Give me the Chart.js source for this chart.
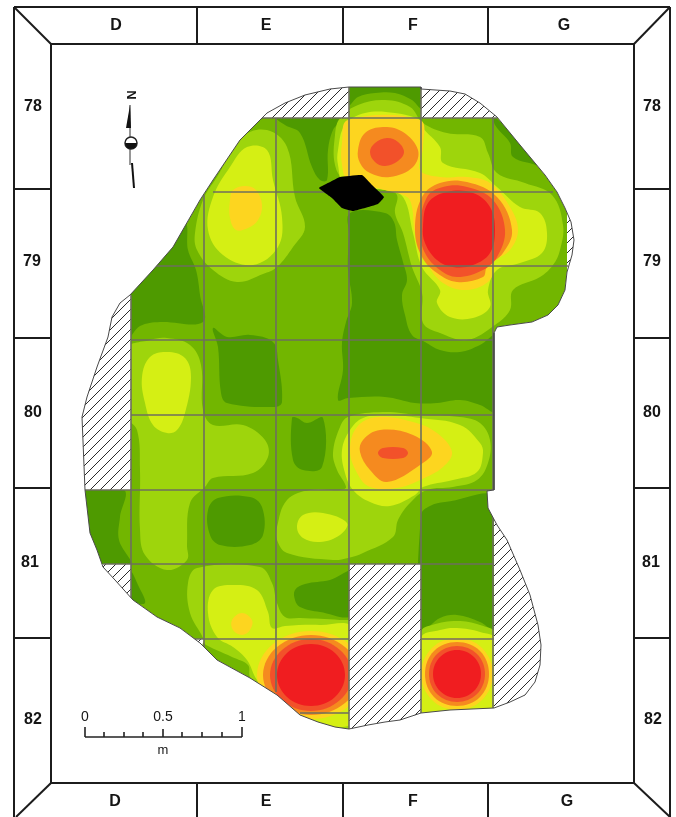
<!DOCTYPE html>
<html lang="en">
<head>
<meta charset="UTF-8">
<title>Excavation grid contour map</title>
<script src="https://cdn.jsdelivr.net/npm/chart.js"></script>
<style>
  html, body { margin: 0; padding: 0; background: #fff; }
  canvas { display: block; }
</style>
</head>
<body>
<canvas id="map" width="676" height="817"></canvas>
<script>
// labels of the grid squares
const columns = ['D', 'E', 'F', 'G'];
const rows = ['78', '79', '80', '81', '82'];
const scaleLabels = ['0', '0.5', '1'];
const scaleUnit = 'm';

const site = [[262,118],[267,113],[285,103],[305,95],[330,89],[349,87],[421,87],[421,89],[450,91],[465,94],[480,103],[497,117],[520,145],[545,175],[557,192],[565,208],[571,222],[574,240],[572,255],[567,272],[565,290],[558,305],[548,315],[532,322],[510,325],[497,327],[494,333],[494,490],[487,491],[488,508],[497,525],[507,540],[520,570],[530,595],[538,625],[541,645],[540,665],[535,682],[525,695],[510,702],[494,708],[450,710],[421,713],[400,720],[385,722],[368,725],[349,729],[335,727],[318,722],[300,715],[277,695],[250,678],[217,660],[200,643],[180,628],[157,617],[133,600],[115,580],[103,567],[97,550],[90,533],[85,490],[82,417],[87,397],[97,367],[108,337],[112,317],[120,303],[130,295],[153,270],[173,247],[200,200],[213,180],[240,140],[262,118]];

const level0 = [
  [[349,87],[421,87],[421,108],[412,100],[395,93],[375,93],[358,97],[349,105]],
  [[277,118],[342,118],[333,130],[328,150],[327,180],[320,180],[312,167],[300,133],[285,125]],
  [[495,117],[560,185],[553,180],[540,167],[513,157],[510,143],[495,125]],
  [[128,300],[165,235],[185,222],[188,250],[196,270],[200,295],[203,322],[160,322],[140,326],[128,338]],
  [[350,213],[385,213],[394,222],[397,240],[403,262],[407,280],[402,295],[405,315],[412,335],[425,342],[440,350],[460,352],[480,345],[497,335],[497,412],[480,405],[460,400],[437,403],[415,403],[385,397],[348,398],[338,400],[343,370],[342,343],[346,322],[352,303],[348,270],[349,235]],
  [[213,328],[227,337],[250,335],[273,342],[278,360],[282,402],[275,407],[227,403],[221,393],[218,347]],
  [[292,418],[297,418],[307,423],[323,418],[322,467],[303,470],[293,460]],
  [[80,490],[124,490],[120,517],[119,540],[131,566],[95,566],[85,530]],
  [[131,572],[138,585],[145,603],[131,600]],
  [[208,510],[218,498],[250,497],[262,507],[263,535],[250,545],[220,545],[210,535]],
  [[295,590],[305,584],[330,580],[352,572],[352,615],[320,612],[300,607],[295,600]],
  [[421,515],[430,506],[445,502],[497,499],[497,631],[480,622],[457,615],[440,618],[421,630]]
];

const level2 = [
  [[242,137],[267,130],[287,147],[295,197],[305,227],[293,247],[277,267],[263,274],[237,282],[213,270],[197,250],[195,233],[203,200],[217,177]],
  [[335,135],[340,118],[358,105],[385,100],[410,107],[423,123],[447,133],[480,137],[488,153],[497,173],[525,183],[552,195],[563,225],[560,250],[553,265],[540,277],[513,290],[510,310],[495,325],[467,340],[440,333],[423,323],[422,293],[412,267],[403,233],[395,213],[397,195],[385,190],[345,180],[335,165]],
  [[125,350],[150,340],[167,338],[190,345],[201,365],[203,410],[213,425],[243,425],[265,440],[268,457],[253,473],[213,478],[205,487],[190,503],[187,545],[187,560],[167,570],[145,555],[140,530],[140,470],[137,430],[125,415]],
  [[188,583],[197,568],[260,567],[272,583],[277,603],[285,617],[300,618],[340,620],[352,623],[352,732],[300,718],[260,690],[250,677],[248,665],[232,657],[203,643],[203,638],[190,613]],
  [[333,453],[340,427],[348,417],[383,412],[420,415],[460,417],[480,423],[490,440],[488,463],[477,480],[453,487],[427,490],[410,503],[398,520],[393,537],[363,553],[348,558],[333,560],[287,553],[277,540],[277,527],[287,500],[310,490],[340,490],[346,487],[337,470]],
  [[421,632],[432,625],[457,621],[480,625],[497,635],[497,716],[421,716]]
];

const level3 = [
  [[247,147],[267,150],[273,180],[282,217],[278,247],[253,265],[223,255],[208,230],[213,197],[230,167]],
  [[142,377],[150,357],[167,352],[185,358],[191,377],[185,413],[177,430],[167,433],[153,425],[145,403]],
  [[297,527],[303,515],[323,513],[347,523],[340,535],[320,542],[303,538]],
  [[208,613],[213,590],[233,585],[257,590],[268,612],[272,628],[285,626],[320,625],[352,628],[355,720],[320,725],[290,710],[272,695],[257,680],[247,660],[233,647],[217,637]],
  [[342,450],[350,430],[363,418],[387,415],[420,418],[460,425],[480,443],[483,453],[477,472],[453,480],[423,487],[415,495],[390,506],[370,502],[353,490],[345,473]],
  [[338,150],[345,125],[365,113],[395,113],[420,120],[422,127],[440,147],[443,163],[480,173],[497,187],[520,207],[540,213],[547,233],[542,253],[520,263],[497,270],[488,290],[490,307],[473,318],[450,317],[437,303],[440,290],[422,267],[413,233],[403,197],[385,190],[345,185],[338,165]],
  [[421,638],[440,630],[457,628],[480,632],[497,640],[497,716],[421,716]]
];

const level4 = [
  [[233,190],[245,186],[256,190],[262,205],[258,220],[248,228],[236,230],[230,218],[230,200]],
  [[232,620],[242,613],[252,620],[250,630],[242,635],[233,630]],
  [[350,450],[357,427],[377,417],[413,422],[437,433],[452,452],[443,467],[420,480],[397,488],[370,487],[357,473]],
  [[342,143],[348,120],[420,120],[423,147],[420,170],[440,177],[467,177],[490,183],[510,207],[518,230],[510,250],[493,263],[490,280],[467,290],[443,283],[427,263],[415,233],[412,207],[407,197],[385,190],[348,180],[342,165]],
  [[311,631],[349,644],[365,675],[349,706],[311,719],[273,706],[257,675],[273,644]],
  [[457,638],[482,648],[493,674],[482,700],[457,710],[432,700],[421,674],[432,648]]
];

const level5 = [
  [[360,452],[363,440],[380,430],[413,435],[432,452],[420,465],[387,482],[370,470]],
  [[358,150],[365,133],[383,127],[403,132],[418,150],[413,167],[390,177],[370,173],[360,163]],
  [[415,230],[422,197],[440,183],[467,182],[497,197],[512,230],[503,253],[487,267],[483,277],[457,282],[437,273],[422,257]],
  [[311,635],[345,647],[359,675],[345,703],[311,715],[277,703],[263,675],[277,647]],
  [[457,642],[480,651],[489,674],[480,697],[457,706],[434,697],[425,674],[434,651]]
];

const level6 = [
  [[378,453],[383,448],[403,448],[408,453],[403,458],[383,458]],
  [[370,152],[375,143],[387,138],[398,142],[404,152],[398,161],[385,166],[375,162]],
  [[420,230],[427,197],[443,187],[467,187],[493,200],[505,230],[497,257],[483,270],[457,277],[440,270],[425,253]],
  [[311,639],[340,650],[352,675],[340,700],[311,711],[282,700],[270,675],[282,650]],
  [[457,646],[477,654],[485,674],[477,694],[457,702],[437,694],[429,674],[437,654]]
];

const level7 = [
  [[423,227],[428,203],[447,192],[473,193],[490,207],[495,230],[490,253],[473,265],[453,267],[437,260],[425,243]],
  [[311,644],[335,653],[345,675],[335,697],[311,706],[287,697],[277,675],[287,653]],
  [[457,650],[474,657],[481,674],[474,691],[457,698],[440,691],[433,674],[440,657]]
];

const levelColors = ['#4e9a00', '#72b600', '#9ed50c', '#d5ef14', '#fdd51f', '#f58a1f', '#f2512a', '#f01d20'];

const hatched = [
  [[60,270],[131,270],[131,490],[60,490]],
  [[90,564],[131,564],[131,610],[90,610]],
  [[190,639],[204,639],[201,650],[190,650]],
  [[250,80],[349,80],[349,118],[250,118]],
  [[421,80],[510,80],[510,118],[421,118]],
  [[567,205],[580,205],[580,278],[567,278]],
  [[349,564],[421,564],[421,740],[349,740]],
  [[494,490],[560,490],[560,720],[494,720]]
];

const blackStone = [[319,188],[330,182],[340,177],[362,175],[372,185],[384,197],[378,204],[365,208],[353,211],[342,208],[332,198]];

const gridLines = [
  [131,295,131,600],[204,195,204,648],[276,118,276,692],[349,87,349,729],[421,87,421,713],[493,118,493,490],[493,515,493,708],
  [262,118,497,118],[213,192,553,192],[153,266,568,266],[131,340,494,340],[131,415,494,415],[85,490,494,490],[103,564,494,564],[193,639,349,639],[421,639,494,639],[300,713,349,713]
];

const frameLines = [
  [14,7,670,7],[14,7,14,817],[670,7,670,817],
  [51,44,634,44],[51,44,51,783],[634,44,634,783],[51,783,634,783],
  [14,7,51,44],[670,7,634,44],[51,783,16,817],[634,783,670,817],
  [197,7,197,44],[343,7,343,44],[488,7,488,44],[197,783,197,817],[343,783,343,817],[488,783,488,817],
  [14,189,51,189],[14,338,51,338],[14,488,51,488],[14,638,51,638],
  [634,189,670,189],[634,338,670,338],[634,488,670,488],[634,638,670,638]
];

const scaleBarLines = [
  [85,737,242,737],[85,727,85,737],[242,727,242,737],[163,729,163,737],
  [104,732,104,737],[124,732,124,737],[143,732,143,737],[182,732,182,737],[202,732,202,737],[222,732,222,737]
];

const northWedges = [
  [[130,105],[126,128],[131,128]],
  [[131,163],[133,163],[135,188],[133,188]],
  [[125,143],[137,143],[135,148],[131,149],[127,148]]
];
const northShaft = [130,105,130,165];
const northDial = [131,143];

const topLabelX = [116, 266, 413, 564];
const bottomLabelX = [115, 266, 413, 567];
const leftLabelX = [33, 32, 33, 30, 33];
const rightLabelX = [652, 652, 652, 651, 653];
const rowLabelY = [107, 262, 413, 563, 720];
const scaleLabelX = [85, 163, 242];

function hatchPattern() {
  const tile = document.createElement('canvas');
  tile.width = 10;
  tile.height = 10;
  const c = tile.getContext('2d');
  c.fillStyle = '#fff';
  c.fillRect(0, 0, 10, 10);
  c.strokeStyle = '#2a2a2a';
  c.lineWidth = 1;
  c.beginPath();
  c.moveTo(-2, 12);
  c.lineTo(12, -2);
  c.moveTo(-2, 2);
  c.lineTo(2, -2);
  c.moveTo(8, 12);
  c.lineTo(12, 8);
  c.stroke();
  return c.createPattern(tile, 'repeat');
}

const toPoints = pts => pts.map(p => ({x: p[0], y: p[1]}));
const closed = pts => toPoints(pts.concat([pts[0]]));

// datasets are pushed bottom layer first, the order key is set at the end
const layers = [];
function area(pts, color) {
  layers.push({data: closed(pts), showLine: true, fill: 'shape', backgroundColor: color, borderColor: color, borderWidth: 0, pointRadius: 0, tension: 0});
}
// smooth contour, the ends are joined by the loopLines plugin
function contour(pts, color, tension) {
  layers.push({data: toPoints(pts), loop: true, showLine: true, fill: 'shape', backgroundColor: color, borderColor: color, borderWidth: 0, pointRadius: 0, tension: tension});
}
function segment(s, color, width) {
  layers.push({data: [{x: s[0], y: s[1]}, {x: s[2], y: s[3]}], showLine: true, fill: false, borderColor: color, borderWidth: width, pointRadius: 0});
}

area(site, levelColors[1]);
[level0, level2, level3, level4, level5, level6, level7].forEach(function (group, i) {
  const color = levelColors[i === 0 ? 0 : i + 1];
  group.forEach(pts => contour(pts, color, 0.38));
});

const pattern = hatchPattern();
hatched.forEach(pts => area(pts, pattern));
gridLines.forEach(s => segment(s, '#6e6e5e', 1.6));
contour(blackStone, '#000', 0.1);

// white page round the site: outer box run the other way, then the site outline
const outerBox = [[0,0],[0,817],[676,817],[676,0],[0,0]];
layers.push({data: toPoints(outerBox.concat(site, [[0,0]])), showLine: true, fill: 'shape', backgroundColor: '#fff', borderWidth: 0, pointRadius: 0, tension: 0});
layers.push({data: toPoints(site), showLine: true, fill: false, borderColor: '#4a4a4a', borderWidth: 1, pointRadius: 0, tension: 0});

frameLines.forEach(s => segment(s, '#1c1c1c', 2));
scaleBarLines.forEach(s => segment(s, '#222', 1.6));
segment(northShaft, '#888', 1);
layers.push({data: [{x: northDial[0], y: northDial[1]}], showLine: false, pointRadius: 6, backgroundColor: '#fff', borderColor: '#222', borderWidth: 1.5});
northWedges.forEach(pts => area(pts, '#111'));

layers.forEach((d, i) => { d.order = layers.length - i; });

const loopLines = {
  id: 'loopLines',
  afterDatasetUpdate(chart, args) {
    const line = args.meta.dataset;
    if (line && chart.data.datasets[args.index].loop) {
      line._loop = true;
      line._fullLoop = true;
      line._segments = undefined;
      line._pointsUpdated = false;
    }
  }
};

const mapLabels = {
  id: 'mapLabels',
  afterDraw(chart) {
    const ctx = chart.ctx;
    const px = chart.scales.x;
    const py = chart.scales.y;
    const put = (text, x, y) => ctx.fillText(text, px.getPixelForValue(x), py.getPixelForValue(y));
    ctx.save();
    ctx.textAlign = 'center';
    ctx.textBaseline = 'middle';
    ctx.fillStyle = '#151515';
    ctx.font = 'bold 16px "Liberation Sans"';
    columns.forEach((c, i) => {
      put(c, topLabelX[i], 26);
      put(c, bottomLabelX[i], 802);
    });
    rows.forEach((r, i) => {
      put(r, leftLabelX[i], rowLabelY[i]);
      put(r, rightLabelX[i], rowLabelY[i]);
    });
    ctx.font = '14px "Liberation Sans"';
    scaleLabels.forEach((s, i) => put(s, scaleLabelX[i], 717));
    ctx.font = '13px "Liberation Sans"';
    put(scaleUnit, 163, 750);
    // north sign lies on its side
    ctx.font = 'bold 13px "Liberation Sans"';
    ctx.translate(px.getPixelForValue(131), py.getPixelForValue(95));
    ctx.rotate(Math.PI / 2);
    ctx.fillText('N', 0, 0);
    ctx.restore();
  }
};

new Chart(document.getElementById('map'), {
  type: 'scatter',
  data: {datasets: layers},
  options: {
    responsive: false,
    animation: false,
    events: [],
    layout: {padding: 0, autoPadding: false},
    plugins: {legend: {display: false}, tooltip: {enabled: false}},
    scales: {
      x: {type: 'linear', min: 0, max: 676, display: false},
      y: {type: 'linear', min: 0, max: 817, reverse: true, display: false}
    }
  },
  plugins: [loopLines, mapLabels]
});
</script>
</body>
</html>
